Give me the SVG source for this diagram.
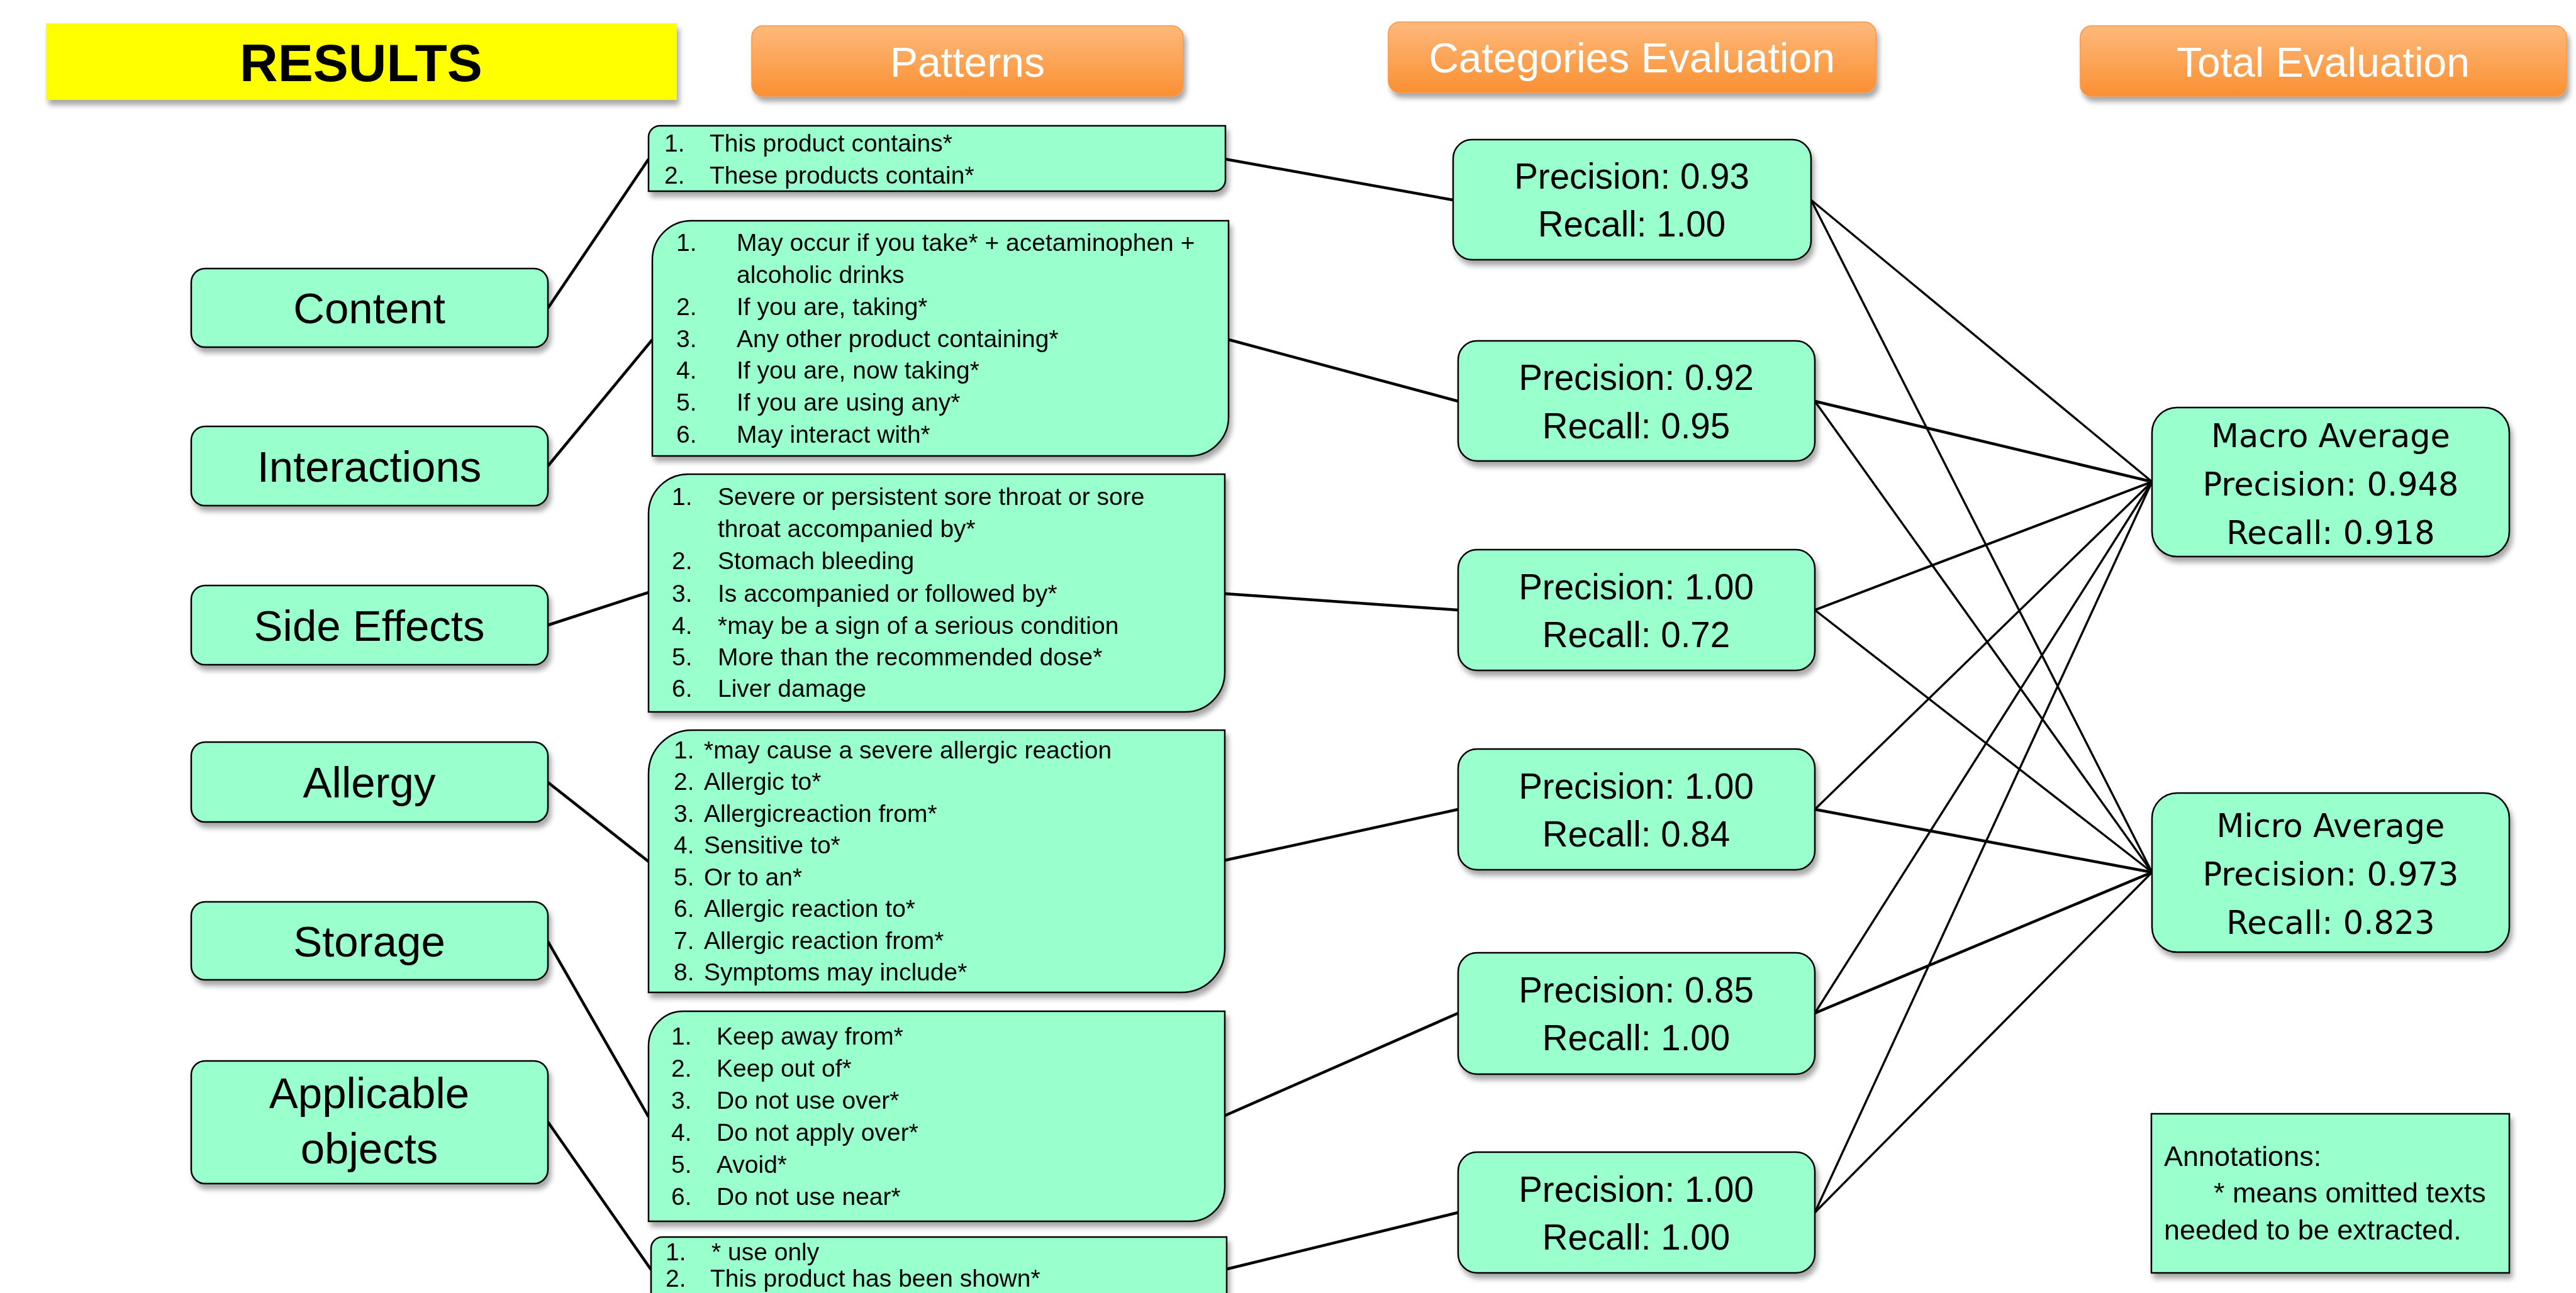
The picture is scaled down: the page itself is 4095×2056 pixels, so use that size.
<svg xmlns="http://www.w3.org/2000/svg" width="4095" height="2056" viewBox="0 0 4095 2056">
<defs>
<filter id="sh" x="-10%" y="-10%" width="125%" height="135%">
<feGaussianBlur in="SourceAlpha" stdDeviation="4"/>
<feOffset dx="4" dy="8" result="b"/>
<feComponentTransfer><feFuncA type="linear" slope="0.35"/></feComponentTransfer>
<feMerge><feMergeNode/><feMergeNode in="SourceGraphic"/></feMerge>
</filter>
<linearGradient id="og" x1="0" y1="0" x2="0" y2="1">
<stop offset="0" stop-color="#FEB97B"/>
<stop offset="1" stop-color="#FA9033"/>
</linearGradient>
</defs>
<style>
.box{fill:#99FFCC;stroke:#000;stroke-width:2.5}
.hdr{fill:url(#og);stroke:#F79646;stroke-width:1.5}
.ht{font-family:"Liberation Sans",Arial,sans-serif;font-size:66px;fill:#fff;text-anchor:middle}
.nt{font-family:"Liberation Sans",Arial,sans-serif;font-size:69px;fill:#000;text-anchor:middle}
.ct{font-family:"Liberation Sans",Arial,sans-serif;font-size:56.5px;fill:#000;text-anchor:middle}
.pt{font-family:"Liberation Sans",Arial,sans-serif;font-size:39px;fill:#000}
.tt{font-family:"DejaVu Sans",Verdana,sans-serif;font-size:51px;fill:#000;text-anchor:middle}
.at{font-family:"Liberation Sans",Arial,sans-serif;font-size:45px;fill:#000}
.c{stroke:#000;stroke-width:4.5;fill:none}
.x{stroke:#000;stroke-width:3.4;fill:none}
</style>
<rect width="4095" height="2056" fill="#fff"/>

<g id="connectors">
<line class="c" x1="871" y1="490" x2="1031" y2="253"/>
<line class="c" x1="871" y1="741" x2="1037" y2="540"/>
<line class="c" x1="871" y1="994" x2="1031" y2="942"/>
<line class="c" x1="871" y1="1244" x2="1031" y2="1370"/>
<line class="c" x1="871" y1="1497" x2="1031" y2="1776"/>
<line class="c" x1="871" y1="1784" x2="1035" y2="2019"/>
<line class="c" x1="1948" y1="253" x2="2310" y2="318"/>
<line class="c" x1="1953" y1="540" x2="2318" y2="638"/>
<line class="c" x1="1947" y1="944" x2="2318" y2="970"/>
<line class="c" x1="1947" y1="1368" x2="2318" y2="1287"/>
<line class="c" x1="1947" y1="1774" x2="2318" y2="1611"/>
<line class="c" x1="1950" y1="2018" x2="2318" y2="1928"/>
<line class="x" x1="2879" y1="318" x2="3421" y2="766"/>
<line class="x" x1="2879" y1="318" x2="3421" y2="1387"/>
<line class="c" x1="2885" y1="638" x2="3421" y2="766"/>
<line class="x" x1="2885" y1="638" x2="3421" y2="1387"/>
<line class="x" x1="2885" y1="970" x2="3421" y2="766" style="stroke-width:4"/>
<line class="x" x1="2885" y1="970" x2="3421" y2="1387"/>
<line class="x" x1="2885" y1="1287" x2="3421" y2="766"/>
<line class="c" x1="2885" y1="1287" x2="3421" y2="1387"/>
<line class="x" x1="2885" y1="1611" x2="3421" y2="766"/>
<line class="c" x1="2885" y1="1611" x2="3421" y2="1387"/>
<line class="x" x1="2885" y1="1928" x2="3421" y2="766"/>
<line class="x" x1="2885" y1="1928" x2="3421" y2="1387"/>
</g>

<g id="results" filter="url(#sh)">
<rect x="73" y="37" width="1003" height="122" fill="#FFFF00"/>
<text x="574" y="129" style="font-family:'Liberation Sans',Arial,sans-serif;font-size:84px;font-weight:bold;text-anchor:middle">RESULTS</text>
</g>

<g id="hdr-patterns" filter="url(#sh)">
<rect class="hdr" x="1195" y="41" width="686" height="112" rx="18"/>
<text class="ht" x="1538" y="122">Patterns</text>
</g>
<g id="hdr-categories" filter="url(#sh)">
<rect class="hdr" x="2207" y="35" width="775" height="112" rx="18"/>
<text class="ht" x="2594" y="115">Categories Evaluation</text>
</g>
<g id="hdr-total" filter="url(#sh)">
<rect class="hdr" x="3307" y="41" width="773" height="112" rx="18"/>
<text class="ht" x="3693" y="122">Total Evaluation</text>
</g>

<g id="node-content" filter="url(#sh)">
<rect class="box" x="304" y="427" width="567" height="125" rx="22"/>
<text class="nt" x="587" y="514">Content</text>
</g>
<g id="node-interactions" filter="url(#sh)">
<rect class="box" x="304" y="678" width="567" height="126" rx="22"/>
<text class="nt" x="587" y="766">Interactions</text>
</g>
<g id="node-sideeffects" filter="url(#sh)">
<rect class="box" x="304" y="931" width="567" height="126" rx="22"/>
<text class="nt" x="587" y="1019">Side Effects</text>
</g>
<g id="node-allergy" filter="url(#sh)">
<rect class="box" x="304" y="1180" width="567" height="127" rx="22"/>
<text class="nt" x="587" y="1268">Allergy</text>
</g>
<g id="node-storage" filter="url(#sh)">
<rect class="box" x="304" y="1434" width="567" height="124" rx="22"/>
<text class="nt" x="587" y="1521">Storage</text>
</g>
<g id="node-applicable" filter="url(#sh)">
<rect class="box" x="304" y="1687" width="567" height="195" rx="22"/>
<text class="nt" x="587" y="1762">Applicable</text>
<text class="nt" x="587" y="1850">objects</text>
</g>

<g id="pattern-content" filter="url(#sh)">
<path class="box" d="M1049,200 H1948 V286 A18 18 0 0 1 1930,304 H1031 V218 A18 18 0 0 1 1049,200 Z"/>
<text class="pt" x="1056" y="241">1.</text><text class="pt" x="1128" y="241">This product contains*</text>
<text class="pt" x="1056" y="292">2.</text><text class="pt" x="1128" y="292">These products contain*</text>
</g>
<g id="pattern-interactions" filter="url(#sh)">
<path class="box" d="M1099,351 H1953 V663 A62 62 0 0 1 1891,725 H1037 V413 A62 62 0 0 1 1099,351 Z"/>
<text class="pt" x="1075" y="399">1.</text><text class="pt" x="1171" y="399">May occur if you take* + acetaminophen +</text>
<text class="pt" x="1171" y="450">alcoholic drinks</text>
<text class="pt" x="1075" y="501">2.</text><text class="pt" x="1171" y="501">If you are, taking*</text>
<text class="pt" x="1075" y="552">3.</text><text class="pt" x="1171" y="552">Any other product containing*</text>
<text class="pt" x="1075" y="602">4.</text><text class="pt" x="1171" y="602">If you are, now taking*</text>
<text class="pt" x="1075" y="653">5.</text><text class="pt" x="1171" y="653">If you are using any*</text>
<text class="pt" x="1075" y="704">6.</text><text class="pt" x="1171" y="704">May interact with*</text>
</g>
<g id="pattern-sideeffects" filter="url(#sh)">
<path class="box" d="M1094,754 H1947 V1069 A63 63 0 0 1 1884,1132 H1031 V817 A63 63 0 0 1 1094,754 Z"/>
<text class="pt" x="1068" y="803">1.</text><text class="pt" x="1141" y="803">Severe or persistent sore throat or sore</text>
<text class="pt" x="1141" y="854">throat accompanied by*</text>
<text class="pt" x="1068" y="905">2.</text><text class="pt" x="1141" y="905">Stomach bleeding</text>
<text class="pt" x="1068" y="957">3.</text><text class="pt" x="1141" y="957">Is accompanied or followed by*</text>
<text class="pt" x="1068" y="1008">4.</text><text class="pt" x="1141" y="1008">*may be a sign of a serious condition</text>
<text class="pt" x="1068" y="1058">5.</text><text class="pt" x="1141" y="1058">More than the recommended dose*</text>
<text class="pt" x="1068" y="1108">6.</text><text class="pt" x="1141" y="1108">Liver damage</text>
</g>
<g id="pattern-allergy" filter="url(#sh)">
<path class="box" d="M1100,1161 H1947 V1509 A69 69 0 0 1 1878,1578 H1031 V1230 A69 69 0 0 1 1100,1161 Z"/>
<text class="pt" x="1071" y="1206">1.</text><text class="pt" x="1119" y="1206">*may cause a severe allergic reaction</text>
<text class="pt" x="1071" y="1256">2.</text><text class="pt" x="1119" y="1256">Allergic to*</text>
<text class="pt" x="1071" y="1307">3.</text><text class="pt" x="1119" y="1307">Allergicreaction from*</text>
<text class="pt" x="1071" y="1357">4.</text><text class="pt" x="1119" y="1357">Sensitive to*</text>
<text class="pt" x="1071" y="1408">5.</text><text class="pt" x="1119" y="1408">Or to an*</text>
<text class="pt" x="1071" y="1458">6.</text><text class="pt" x="1119" y="1458">Allergic reaction to*</text>
<text class="pt" x="1071" y="1509">7.</text><text class="pt" x="1119" y="1509">Allergic reaction from*</text>
<text class="pt" x="1071" y="1559">8.</text><text class="pt" x="1119" y="1559">Symptoms may include*</text>
</g>
<g id="pattern-storage" filter="url(#sh)">
<path class="box" d="M1086,1608 H1947 V1887 A55 55 0 0 1 1892,1942 H1031 V1663 A55 55 0 0 1 1086,1608 Z"/>
<text class="pt" x="1067" y="1661">1.</text><text class="pt" x="1139" y="1661">Keep away from*</text>
<text class="pt" x="1067" y="1712">2.</text><text class="pt" x="1139" y="1712">Keep out of*</text>
<text class="pt" x="1067" y="1763">3.</text><text class="pt" x="1139" y="1763">Do not use over*</text>
<text class="pt" x="1067" y="1814">4.</text><text class="pt" x="1139" y="1814">Do not apply over*</text>
<text class="pt" x="1067" y="1865">5.</text><text class="pt" x="1139" y="1865">Avoid*</text>
<text class="pt" x="1067" y="1916">6.</text><text class="pt" x="1139" y="1916">Do not use near*</text>
</g>
<g id="pattern-applicable" filter="url(#sh)">
<path class="box" d="M1053,1967 H1950 V2059 A18 18 0 0 1 1932,2077 H1035 V1985 A18 18 0 0 1 1053,1967 Z"/>
<text class="pt" x="1058" y="2004">1.</text><text class="pt" x="1131" y="2004">* use only</text>
<text class="pt" x="1058" y="2046">2.</text><text class="pt" x="1129" y="2046">This product has been shown*</text>
</g>

<g id="cat-content" filter="url(#sh)">
<rect class="box" x="2310" y="222" width="569" height="191" rx="30"/>
<text class="ct" x="2594" y="300">Precision: 0.93</text>
<text class="ct" x="2594" y="376">Recall: 1.00</text>
</g>
<g id="cat-interactions" filter="url(#sh)">
<rect class="box" x="2318" y="542" width="567" height="191" rx="30"/>
<text class="ct" x="2601" y="620">Precision: 0.92</text>
<text class="ct" x="2601" y="697">Recall: 0.95</text>
</g>
<g id="cat-sideeffects" filter="url(#sh)">
<rect class="box" x="2318" y="874" width="567" height="192" rx="30"/>
<text class="ct" x="2601" y="953">Precision: 1.00</text>
<text class="ct" x="2601" y="1029">Recall: 0.72</text>
</g>
<g id="cat-allergy" filter="url(#sh)">
<rect class="box" x="2318" y="1191" width="567" height="192" rx="30"/>
<text class="ct" x="2601" y="1270">Precision: 1.00</text>
<text class="ct" x="2601" y="1346">Recall: 0.84</text>
</g>
<g id="cat-storage" filter="url(#sh)">
<rect class="box" x="2318" y="1515" width="567" height="193" rx="30"/>
<text class="ct" x="2601" y="1594">Precision: 0.85</text>
<text class="ct" x="2601" y="1670">Recall: 1.00</text>
</g>
<g id="cat-applicable" filter="url(#sh)">
<rect class="box" x="2318" y="1832" width="567" height="192" rx="30"/>
<text class="ct" x="2601" y="1911">Precision: 1.00</text>
<text class="ct" x="2601" y="1987">Recall: 1.00</text>
</g>

<g id="macro" filter="url(#sh)">
<rect class="box" x="3421" y="648" width="568" height="237" rx="40"/>
<text class="tt" x="3705" y="711">Macro Average</text>
<text class="tt" x="3705" y="788">Precision: 0.948</text>
<text class="tt" x="3705" y="865">Recall: 0.918</text>
</g>
<g id="micro" filter="url(#sh)">
<rect class="box" x="3421" y="1261" width="568" height="253" rx="40"/>
<text class="tt" x="3705" y="1331">Micro Average</text>
<text class="tt" x="3705" y="1408">Precision: 0.973</text>
<text class="tt" x="3705" y="1485">Recall: 0.823</text>
</g>

<g id="annotations" filter="url(#sh)">
<rect class="box" x="3420" y="1771" width="569" height="253"/>
<text class="at" x="3440" y="1854">Annotations:</text>
<text class="at" x="3519" y="1912">* means omitted texts</text>
<text class="at" x="3440" y="1971">needed to be extracted.</text>
</g>
</svg>
